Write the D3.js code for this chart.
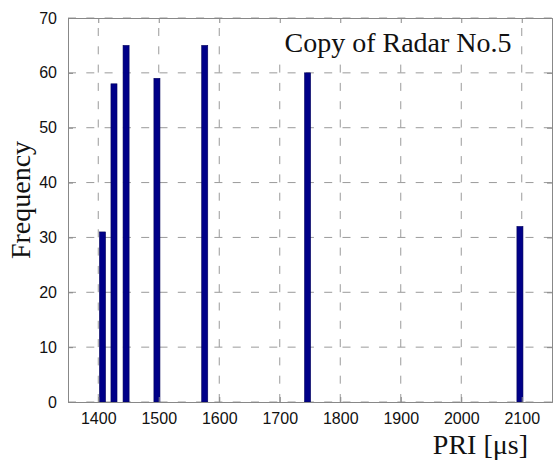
<!DOCTYPE html>
<html>
<head>
<meta charset="utf-8">
<script src="https://cdn.jsdelivr.net/npm/d3@7"></script>
<style>
body{margin:0;background:#fff;}
svg{display:block;}
</style>
</head>
<body>
<svg id="chart" width="554" height="460"></svg>
<script>
// PRI bins (us) and their counts
var pri = [1407, 1426, 1446, 1497, 1576, 1746, 2097];
var freq = [31, 58, 65, 59, 65, 60, 32];
var xTicks = [1400, 1500, 1600, 1700, 1800, 1900, 2000, 2100];
var yTicks = [0, 10, 20, 30, 40, 50, 60, 70];
var titleText = "Copy of Radar No.5";

var svg = d3.select("#chart");
// "top" est déjà pris par window.top !
var pLeft = 68, pRight = 552, pTop = 18, pBottom = 402;

var x = d3.scaleLinear().domain([1350, 2150]).range([pLeft, pRight]);
var y = d3.scaleLinear().domain([0, 70]).range([pBottom, pTop]);
var barW = x(1360) - x(1350);

var grid = svg.append("g");
// grille en pointillés (verticales tracées du bas vers le haut)
grid.selectAll(".vg").data(xTicks).enter().append("line")
    .attr("x1", function(d){return x(d);}).attr("x2", function(d){return x(d);})
    .attr("y1", pBottom).attr("y2", pTop)
    .style("stroke", "#9a9a9a").style("stroke-width", 1).style("stroke-dasharray", "8,10.3");
grid.selectAll(".hg").data(yTicks).enter().append("line")
    .attr("y1", function(d){return y(d);}).attr("y2", function(d){return y(d);})
    .attr("x1", pLeft).attr("x2", pRight)
    .style("stroke", "#9a9a9a").style("stroke-width", 1).style("stroke-dasharray", "8,10.3");

// bars
svg.selectAll(".bar").data(pri).enter().append("rect")
    .attr("x", function(d){return x(d) - barW/2;})
    .attr("width", barW)
    .attr("y", function(d, i){return y(freq[i]);})
    .attr("height", function(d, i){return pBottom - y(freq[i]);})
    .style("fill", "#000088").style("stroke", "#00005a").style("stroke-width", 0.6);

// white box behind the title
svg.append("rect").attr("x", 278).attr("y", 24).attr("width", 240).attr("height", 40).style("fill", "#fff");
svg.append("text").attr("x", 398).attr("y", 52).attr("text-anchor", "middle")
    .style("font-family", "'Liberation Serif','Times New Roman',serif").style("font-size", "28px")
    .style("fill", "#111").text(titleText);

// axes (ticks inside, like matlab)
var xAxis = svg.append("g").attr("transform", "translate(0," + pBottom + ")")
    .call(d3.axisBottom(x).tickValues(xTicks).tickSize(-5).tickPadding(11).tickFormat(d3.format("d")));
var xTop = svg.append("g").attr("transform", "translate(0," + pTop + ")")
    .call(d3.axisTop(x).tickValues(xTicks).tickSize(-5).tickFormat(""));
var yAxis = svg.append("g").attr("transform", "translate(" + pLeft + ",0)")
    .call(d3.axisLeft(y).tickValues(yTicks).tickSize(-5).tickPadding(11));
var yRight = svg.append("g").attr("transform", "translate(" + pRight + ",0)")
    .call(d3.axisRight(y).tickValues(yTicks).tickSize(-5).tickFormat(""));

[xAxis, xTop, yAxis, yRight].forEach(function(a){
    a.select(".domain").style("stroke", "#888");
    a.selectAll(".tick line").style("stroke", "#888");
    a.selectAll("text").style("font-family", "'Liberation Sans',Arial,sans-serif")
        .style("font-size", "16px").style("fill", "#111");
});

// axis labels
svg.append("text").attr("x", 528).attr("y", 454).attr("text-anchor", "end")
    .style("font-family", "'Liberation Serif','Times New Roman',serif").style("font-size", "28px")
    .style("fill", "#111").text("PRI [\u03bcs]");
svg.append("text").attr("transform", "translate(30,200) rotate(-90)").attr("text-anchor", "middle")
    .style("font-family", "'Liberation Serif','Times New Roman',serif").style("font-size", "28px")
    .style("fill", "#111").text("Frequency");
</script>
</body>
</html>
